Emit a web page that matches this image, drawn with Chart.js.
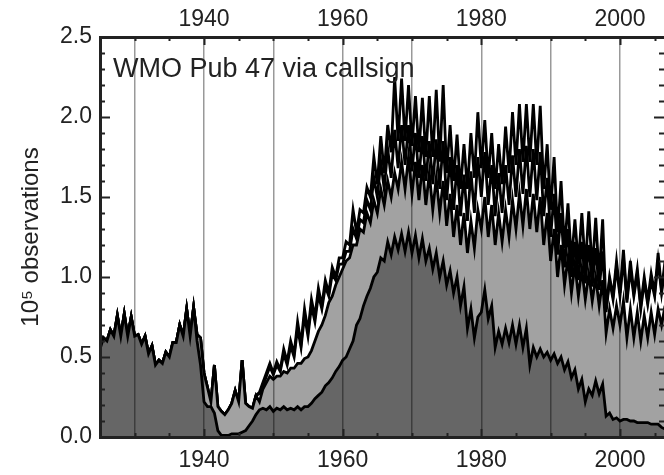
<!DOCTYPE html>
<html>
<head>
<meta charset="utf-8">
<script src="https://cdn.jsdelivr.net/npm/chart.js@4.4.1/dist/chart.umd.min.js"></script>
<style>
  html, body { margin: 0; padding: 0; background: #fff; overflow: hidden; }
  #wrap { width: 664px; height: 475px; }
</style>
</head>
<body>
<div id="wrap"><canvas id="obsChart" width="664" height="475"></canvas></div>
<script>
// sample years; each year has two readings: start of year and mid-year
const years = [
  1925, 1926, 1927, 1928, 1929, 1930, 1931, 1932, 1933, 1934,
  1935, 1936, 1937, 1938, 1939, 1940, 1941, 1942, 1943, 1944,
  1945, 1946, 1947, 1948, 1949, 1950, 1951, 1952, 1953, 1954,
  1955, 1956, 1957, 1958, 1959, 1960, 1961, 1962, 1963, 1964,
  1965, 1966, 1967, 1968, 1969, 1970, 1971, 1972, 1973, 1974,
  1975, 1976, 1977, 1978, 1979, 1980, 1981, 1982, 1983, 1984,
  1985, 1986, 1987, 1988, 1989, 1990, 1991, 1992, 1993, 1994,
  1995, 1996, 1997, 1998, 1999, 2000, 2001, 2002, 2003, 2004,
  2005, 2006
];

// 10^5 observations, [start, mid-year] per year
const matchedObs = [
  [.55, .62], [.60, .67], [.63, .76], [.63, .77], [.63, .75],
  [.63, .64], [.58, .63], [.52, .57], [.45, .48], [.46, .53],
  [.50, .59], [.59, .70], [.63, .80], [.63, .81], [.60, .45],
  [.22, .19], [.19, .15], [.04, .01], [.01, .01], [.02, .02],
  [.02, .03], [.04, .07], [.10, .14], [.17, .18], [.17, .19],
  [.16, .18], [.17, .19], [.17, .18], [.17, .19], [.17, .19],
  [.19, .21], [.24, .26], [.28, .32], [.34, .37], [.41, .44],
  [.48, .50], [.55, .60], [.70, .74], [.82, .88], [.93, 1.00],
  [1.03, 1.12], [1.10, 1.22], [1.14, 1.25], [1.17, 1.27], [1.16, 1.28],
  [1.15, 1.26], [1.12, 1.24], [1.10, 1.18], [1.05, 1.15], [1.00, 1.10],
  [.95, 1.04], [.90, 1.00], [.82, .94], [.68, .80], [.62, .75],
  [.78, .92], [.74, .82], [.56, .66], [.58, .68], [.59, .70],
  [.58, .70], [.56, .68], [.45, .56], [.50, .55], [.50, .53],
  [.48, .52], [.46, .50], [.42, .47], [.37, .42], [.30, .36],
  [.22, .30], [.26, .35], [.27, .33], [.13, .15], [.11, .12],
  [.10, .11], [.11, .10], [.10, .09], [.09, .09], [.09, .08],
  [.08, .08], [.06, .05]
];

const callsignObs = [
  [.55, .62], [.60, .67], [.63, .76], [.63, .77], [.63, .75],
  [.63, .64], [.58, .63], [.52, .57], [.45, .48], [.46, .53],
  [.50, .59], [.59, .70], [.63, .80], [.63, .81], [.64, .62],
  [.40, .31], [.22, .45], [.19, .16], [.14, .17], [.21, .29],
  [.22, .48], [.21, .19], [.18, .26], [.22, .30], [.34, .38],
  [.36, .38], [.38, .41], [.40, .43], [.43, .46], [.46, .49],
  [.50, .54], [.60, .66], [.70, .76], [.84, .88], [.95, 1.00],
  [1.05, 1.10], [1.12, 1.20], [1.20, 1.30], [1.28, 1.40], [1.34, 1.48],
  [1.40, 1.55], [1.45, 1.60], [1.50, 1.65], [1.55, 1.72], [1.55, 1.75],
  [1.52, 1.72], [1.48, 1.70], [1.45, 1.65], [1.42, 1.62], [1.40, 1.60],
  [1.32, 1.52], [1.25, 1.45], [1.20, 1.40], [1.15, 1.35], [1.18, 1.42],
  [1.30, 1.50], [1.25, 1.45], [1.20, 1.40], [1.22, 1.42], [1.25, 1.48],
  [1.30, 1.52], [1.32, 1.55], [1.30, 1.52], [1.28, 1.50], [1.20, 1.40],
  [1.10, 1.30], [1.00, 1.20], [.95, 1.12], [.90, 1.08], [.88, 1.05],
  [.86, 1.02], [.85, 1.00], [.82, .98], [.65, .80], [.68, .82],
  [.70, .85], [.62, .80], [.62, .78], [.60, .76], [.62, .78],
  [.64, .80], [.70, .82]
];

const shipObs = [
  [.55, .62], [.60, .67], [.63, .76], [.63, .77], [.63, .75],
  [.63, .64], [.58, .63], [.52, .57], [.45, .48], [.46, .53],
  [.50, .59], [.59, .70], [.63, .80], [.63, .81], [.64, .62],
  [.40, .31], [.22, .45], [.19, .16], [.14, .17], [.21, .29],
  [.22, .48], [.21, .19], [.18, .26], [.27, .32], [.38, .44],
  [.39, .45], [.41, .52], [.45, .57], [.50, .68], [.56, .76],
  [.63, .82], [.72, .89], [.80, .94], [.88, 1.02], [.98, 1.08],
  [1.08, 1.16], [1.16, 1.30], [1.24, 1.36], [1.34, 1.48], [1.42, 1.62],
  [1.50, 1.72], [1.55, 1.80], [1.62, 1.92], [1.68, 1.95], [1.70, 1.95],
  [1.66, 1.90], [1.62, 1.88], [1.60, 1.85], [1.58, 1.86], [1.55, 1.85],
  [1.48, 1.75], [1.42, 1.70], [1.38, 1.64], [1.35, 1.66], [1.40, 1.75],
  [1.50, 1.78], [1.45, 1.70], [1.38, 1.65], [1.40, 1.70], [1.45, 1.76],
  [1.50, 1.80], [1.52, 1.82], [1.50, 1.80], [1.48, 1.78], [1.38, 1.62],
  [1.25, 1.52], [1.14, 1.40], [1.06, 1.30], [1.00, 1.22], [.98, 1.22],
  [.96, 1.20], [.94, 1.18], [.92, 1.16], [.78, .98], [.86, 1.06],
  [.88, 1.12], [.84, 1.05], [.88, 1.02], [.80, .97], [.83, .98],
  [.88, 1.10], [.90, 1.06]
];

const totalObs = [
  [.55, .62], [.60, .67], [.63, .76], [.63, .77], [.63, .75],
  [.63, .64], [.58, .63], [.52, .57], [.45, .48], [.46, .53],
  [.50, .59], [.59, .70], [.63, .80], [.63, .81], [.64, .62],
  [.40, .31], [.22, .45], [.19, .16], [.14, .17], [.21, .29],
  [.22, .48], [.21, .19], [.18, .26], [.28, .34], [.40, .46],
  [.40, .47], [.42, .55], [.47, .60], [.52, .72], [.58, .80],
  [.66, .86], [.75, .93], [.82, .98], [.90, 1.06], [1.00, 1.12],
  [1.12, 1.22], [1.20, 1.42], [1.28, 1.42], [1.40, 1.56], [1.50, 1.75],
  [1.58, 1.88], [1.65, 1.95], [1.78, 2.25], [1.85, 2.24], [1.85, 2.20],
  [1.82, 2.13], [1.78, 2.12], [1.75, 2.13], [1.75, 2.17], [1.72, 2.20],
  [1.65, 1.95], [1.60, 1.89], [1.55, 1.83], [1.55, 1.90], [1.62, 2.03],
  [1.68, 1.98], [1.62, 1.90], [1.55, 1.83], [1.58, 1.94], [1.65, 2.03],
  [1.70, 2.08], [1.72, 2.08], [1.72, 2.08], [1.70, 2.07], [1.55, 1.83],
  [1.42, 1.75], [1.28, 1.60], [1.18, 1.46], [1.10, 1.36], [1.08, 1.40],
  [1.06, 1.41], [1.04, 1.37], [1.00, 1.36], [.80, 1.00], [.88, 1.10],
  [.90, 1.17], [.86, 1.10], [.90, 1.05], [.82, 1.00], [.85, 1.02],
  [.90, 1.15], [.92, 1.10]
];

const yTicks = [0, 0.5, 1.0, 1.5, 2.0, 2.5];
const yearGrid = [1930, 1940, 1950, 1960, 1970, 1980, 1990, 2000];
const yearLabels = [1940, 1960, 1980, 2000];

const FONT = '"Liberation Sans", Arial, Helvetica, sans-serif';

function toPoints(series) {
  return years.flatMap((yr, i) => [
    { x: yr, y: series[i][0] },
    { x: yr + 0.5, y: series[i][1] }
  ]);
}

// inward tick marks on all four sides, plus the source note
const frameTicks = {
  id: 'frameTicks',
  afterDraw(chart) {
    const { ctx, chartArea: a, scales: { x, y } } = chart;
    ctx.save();
    ctx.strokeStyle = '#222';
    ctx.lineWidth = 2;
    ctx.beginPath();
    for (let k = 0; k <= 25; k++) {
      const py = Math.round(y.getPixelForValue(k / 10)) + 0.5;
      const len = k % 5 === 0 ? 10 : 5;
      ctx.moveTo(a.left, py); ctx.lineTo(a.left + len, py);
      ctx.moveTo(a.right, py); ctx.lineTo(a.right - len, py);
    }
    for (let yr = 1930; yr <= 2005; yr += 5) {
      const px = Math.round(x.getPixelForValue(yr)) + 0.5;
      const len = yearLabels.includes(yr) ? 8 : 4;
      ctx.moveTo(px, a.top); ctx.lineTo(px, a.top + len);
      ctx.moveTo(px, a.bottom); ctx.lineTo(px, a.bottom - len);
    }
    ctx.stroke();

    ctx.fillStyle = '#222';
    ctx.font = '27px ' + FONT;
    ctx.textBaseline = 'alphabetic';
    ctx.fillText('WMO Pub 47 via callsign', a.left + 13, a.top + 40);
    ctx.restore();
  }
};

const yearTicks = scale => {
  scale.ticks = yearGrid.map(v => ({ value: v }));
};
const yearLabel = v => (yearLabels.includes(v) ? String(v) : '');

const lineStyle = { borderColor: '#000', borderWidth: 2.8 };

const ctx = document.getElementById('obsChart').getContext('2d');

const obsChart = new Chart(ctx, {
  type: 'line',
  data: {
    datasets: [
      {
        label: 'matched',
        data: toPoints(matchedObs),
        backgroundColor: '#666666',
        fill: 'origin',
        ...lineStyle
      },
      {
        label: 'callsign',
        data: toPoints(callsignObs),
        backgroundColor: '#a2a2a2',
        fill: 'origin',
        ...lineStyle
      },
      {
        label: 'ships',
        data: toPoints(shipObs),
        fill: false,
        ...lineStyle
      },
      {
        label: 'total',
        data: toPoints(totalObs),
        fill: false,
        ...lineStyle
      }
    ]
  },
  options: {
    responsive: false,
    animation: false,
    events: [],
    layout: { padding: 0 },
    elements: {
      point: { radius: 0 },
      line: { tension: 0, borderJoinStyle: 'miter' }
    },
    plugins: {
      legend: { display: false },
      tooltip: { enabled: false }
    },
    scales: {
      x: {
        type: 'linear',
        position: 'bottom',
        min: 1925,
        max: 2006.35,
        afterBuildTicks: yearTicks,
        afterFit: s => { s.height = 38; },
        grid: {
          z: 1,
          color: 'rgba(0,0,0,0.4)',
          lineWidth: 1.5,
          drawTicks: false
        },
        border: { z: 1, color: '#222', width: 3 },
        ticks: {
          callback: yearLabel,
          maxRotation: 0,
          autoSkip: false,
          padding: 10,
          color: '#222',
          font: { family: FONT, size: 23 }
        }
      },
      x2: {
        type: 'linear',
        position: 'top',
        min: 1925,
        max: 2006.35,
        afterBuildTicks: yearTicks,
        afterFit: s => { s.height = 37; },
        grid: { display: false, drawTicks: false },
        border: { z: 1, color: '#222', width: 3 },
        ticks: {
          callback: yearLabel,
          maxRotation: 0,
          autoSkip: false,
          padding: 4,
          color: '#222',
          font: { family: FONT, size: 23 }
        }
      },
      y: {
        min: 0,
        max: 2.5,
        afterBuildTicks: s => { s.ticks = yTicks.map(v => ({ value: v })); },
        afterFit: s => { s.width = 100; },
        grid: { display: false, drawTicks: false },
        border: { z: 1, color: '#222', width: 3 },
        ticks: {
          callback: v => v.toFixed(1),
          padding: 8,
          color: '#222',
          font: { family: FONT, size: 23 }
        },
        title: {
          display: true,
          text: '10\u2075 observations',
          color: '#222',
          padding: { top: 17, bottom: 0 },
          font: { family: FONT, size: 24 }
        }
      }
    }
  },
  plugins: [frameTicks]
});
</script>
</body>
</html>
